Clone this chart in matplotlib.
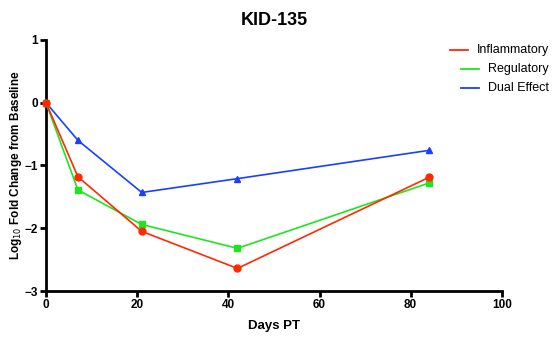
import matplotlib
matplotlib.use("Agg")
import matplotlib.pyplot as plt
from matplotlib.lines import Line2D

# data
days = [0, 7, 21, 42, 84]
inflammatory = [0, -1.18, -2.05, -2.64, -1.19]
regulatory = [0, -1.39, -1.94, -2.32, -1.28]
dual_effect = [0, -0.60, -1.43, -1.21, -0.76]

series_names = ['Inflammatory', 'Regulatory', 'Dual Effect']
colors = ['#ff2a00', '#1ee61e', '#1a40ff']

plt.rcParams['font.family'] = ['Liberation Sans', 'DejaVu Sans']

fig = plt.figure(figsize=(5.57, 3.38), dpi=100)
ax = fig.add_axes([0.0826, 0.139, 0.8184, 0.743])

ax.plot(days, inflammatory, color=colors[0], marker='o', markersize=5, lw=1.2, clip_on=False, zorder=5)
ax.plot(days, regulatory, color=colors[1], marker='s', markersize=5, lw=1.2, clip_on=False, zorder=4)
ax.plot(days, dual_effect, color=colors[2], marker='^', markersize=5, lw=1.2, clip_on=False, zorder=3)

ax.set_xlim(0, 100)
ax.set_ylim(-3, 1)
ax.set_xticks([0, 20, 40, 60, 80, 100])
ax.set_yticks([-3, -2, -1, 0, 1])
for s in ['top', 'right']:
    ax.spines[s].set_visible(False)
for s in ['left', 'bottom']:
    ax.spines[s].set_linewidth(2)
ax.tick_params(width=2, length=4, labelsize=8.5, pad=2)
for lab in ax.get_xticklabels() + ax.get_yticklabels():
    lab.set_fontweight('bold')

ax.set_title('KID-135', fontsize=13, fontweight='bold', pad=11)
ax.set_xlabel('Days PT', fontsize=9.5, fontweight='bold', labelpad=6)
ax.set_ylabel('Log$_{10}$ Fold Change from Baseline', fontsize=8.5, fontweight='bold', labelpad=0)

# legend: right-aligned labels with a short line to the left of each
fig.canvas.draw()
r = fig.canvas.get_renderer()
W, H = fig.bbox.width, fig.bbox.height
for i, (name, c) in enumerate(zip(series_names, colors)):
    ypix = 50 + 19 * i
    t = fig.text(549 / W, 1 - ypix / H, name, ha='right', va='center', fontsize=9)
    bb = t.get_window_extent(r)
    x1 = bb.x0 - 9
    fig.add_artist(Line2D([(x1 - 18) / W, x1 / W], [1 - ypix / H] * 2, color=c, lw=1.3,
                          transform=fig.transFigure))

fig.savefig('out.png', dpi=100)
